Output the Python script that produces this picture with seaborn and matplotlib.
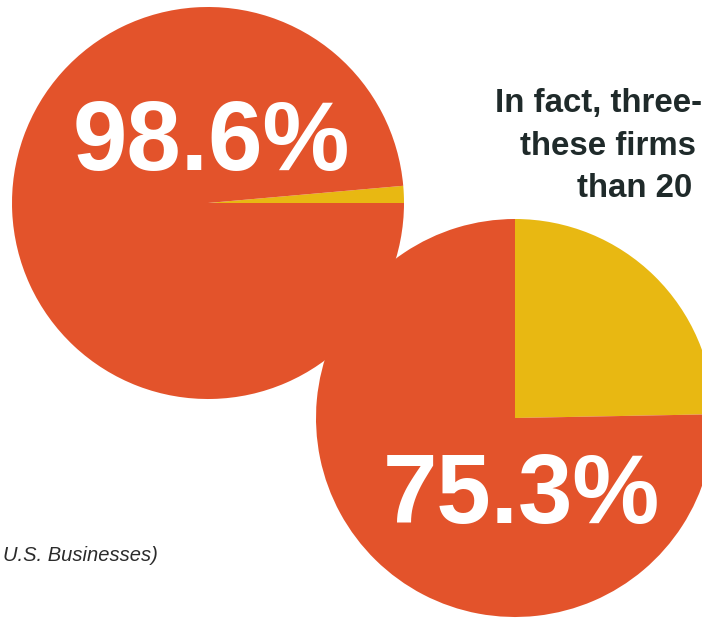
import matplotlib
matplotlib.use("Agg")
import matplotlib.pyplot as plt
import seaborn as sns

# Share of firms (percent): dominant group vs. the rest
firm_share = [98.6, 1.4]
small_firm_share = [75.3, 24.7]

headline_lines = ["In fact, three-", "these firms", "than 20"]
source_note = "U.S. Businesses)"

ORANGE = "#E3532B"
YELLOW = "#E8B812"
INK = "#1F2A2A"

sns.set_theme(style="white")
plt.rcParams["font.family"] = ["Liberation Sans", "DejaVu Sans"]

W, H = 702, 620
fig = plt.figure(figsize=(W / 100, H / 100), dpi=100)
ax = fig.add_axes([0, 0, 1, 1])

# Upper-left pie: the thin yellow sliver sits just above 3 o'clock
ax.pie(
    [firm_share[1], firm_share[0]],
    colors=[YELLOW, ORANGE],
    center=(208, H - 203),
    radius=196,
    startangle=0,
    counterclock=True,
    wedgeprops=dict(linewidth=0),
)

# Lower-right pie: yellow quarter from 12 o'clock to 3 o'clock
ax.pie(
    [small_firm_share[1], small_firm_share[0]],
    colors=[YELLOW, ORANGE],
    center=(515, H - 418),
    radius=199,
    startangle=90,
    counterclock=False,
    wedgeprops=dict(linewidth=0),
)

ax.set_xlim(0, W)
ax.set_ylim(0, H)
ax.set_aspect("equal")
ax.axis("off")

big = dict(color="white", fontsize=70.5, fontweight="bold",
           ha="left", va="baseline")
ax.text(73, H - 170, f"{firm_share[0]}%", **big)
ax.text(383, H - 523, f"{small_firm_share[0]}%", **big)

for x, y, line in zip([495, 520, 577], [112, 155, 197], headline_lines):
    ax.text(x, H - y, line, color=INK, fontsize=23.8, fontweight="bold",
            ha="left", va="baseline")

ax.text(3, H - 561, source_note, color="#2B2B2B", fontsize=14.5,
        fontstyle="italic", ha="left", va="baseline")

fig.savefig("out.png", dpi=100, facecolor="white")
